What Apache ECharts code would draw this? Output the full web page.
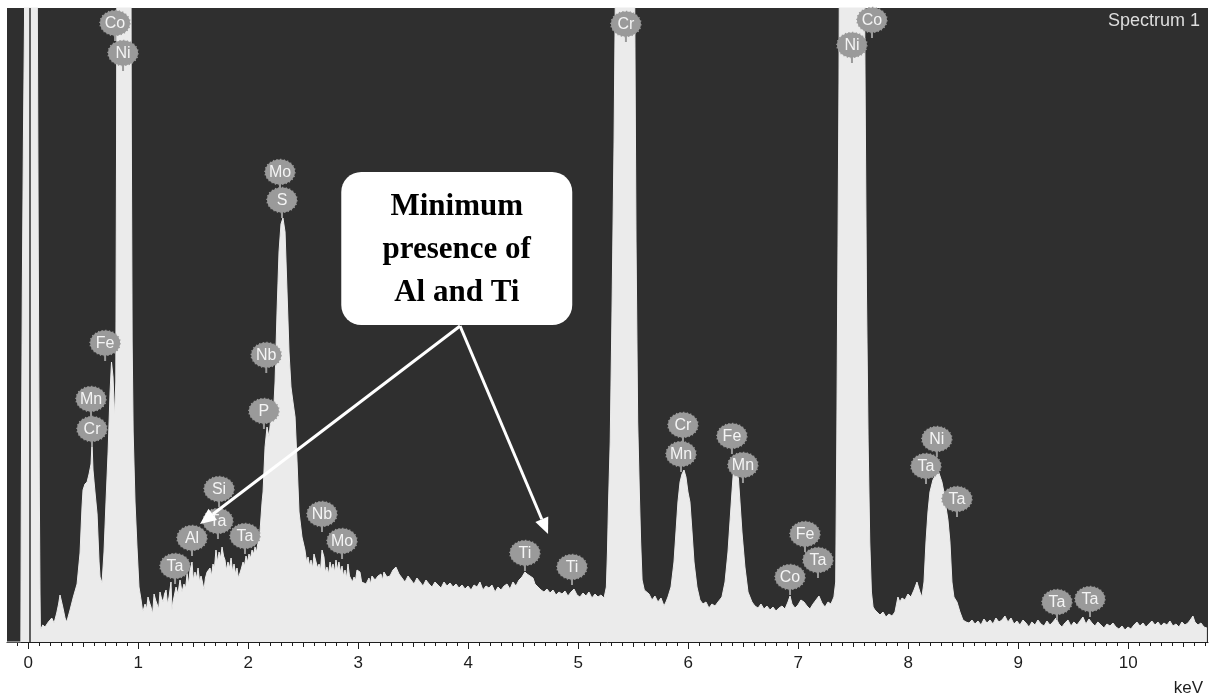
<!DOCTYPE html>
<html><head><meta charset="utf-8">
<script src="https://cdn.jsdelivr.net/npm/echarts@6/dist/echarts.min.js"></script>
<style>html,body{margin:0;padding:0;background:#fff}#c{width:1216px;height:700px}</style>
</head><body><div id="c"></div>
<script>
// ---------------- DATA ----------------
// EDS spectrum: [energy keV, counts (arbitrary units)]
const spectrum = [
[-0.194,0],[-0.068,0],[-0.064,150],[-0.055,350],[-0.045,500],[-0.035,620],[-0.03,1200],[0.078,1200],[0.082,634],[0.09,400],[0.1,150],[0.106,50],[0.11,12],
[0.131,17],[0.152,15],[0.182,20],[0.213,24],[0.234,19],[0.258,29],[0.275,38],[0.288,47],[0.313,35],[0.334,24],[0.349,20],[0.379,32],[0.409,45],[0.443,58],[0.47,89],[0.488,135],[0.497,152],[0.515,158],[0.534,160],[0.552,168],[0.57,178],[0.579,199],[0.588,172],[0.606,150],[0.625,128],[0.643,80],[0.652,65],[0.67,59],[0.688,90],[0.706,140],[0.725,190],[0.743,250],[0.756,280],[0.77,265],[0.784,225],[0.795,260],[0.802,500],[0.81,1000],[0.928,1000],[0.936,520],[0.944,300],[0.953,210],[0.97,140],[0.988,95],[1.006,55],[1.025,42],
[1.04,30],[1.061,38],[1.075,33],[1.088,45],[1.1,40],[1.115,35],[1.13,28],[1.143,48],[1.157,42],[1.17,38],[1.185,33],[1.197,50],[1.21,44],[1.225,40],[1.238,48],[1.252,52],[1.265,38],[1.279,45],[1.297,60],[1.306,32],[1.315,40],[1.343,55],[1.36,48],[1.379,62],[1.397,50],[1.415,58],[1.43,54],[1.443,68],[1.457,58],[1.47,72],[1.488,80],[1.5,62],[1.515,70],[1.53,64],[1.543,74],[1.557,60],[1.57,66],[1.583,60],[1.597,52],[1.61,64],[1.625,70],[1.652,74],[1.665,66],[1.679,78],[1.692,74],[1.706,92],[1.72,80],[1.734,90],[1.748,84],[1.761,95],[1.775,86],[1.788,82],[1.8,72],[1.815,80],[1.83,74],[1.843,84],[1.857,70],[1.87,78],[1.884,68],[1.897,74],[1.91,64],[1.924,66],[1.938,74],[1.952,80],[1.965,76],[1.979,86],[1.993,80],[2.006,88],[2.02,84],[2.034,92],[2.048,88],[2.061,95],[2.075,90],[2.088,100],[2.106,110],[2.125,140],
[2.134,150],[2.152,195],[2.17,215],[2.188,205],[2.206,225],[2.225,220],[2.243,260],[2.261,330],[2.279,390],[2.297,418],[2.315,424],[2.334,410],[2.352,350],[2.37,290],[2.388,255],[2.406,240],[2.425,225],[2.443,180],[2.461,130],[2.488,105],[2.515,92],[2.53,80],[2.543,85],[2.557,76],[2.57,82],[2.585,74],[2.597,88],[2.615,90],[2.63,74],[2.643,78],[2.657,72],[2.67,92],[2.688,85],[2.7,70],[2.715,75],[2.73,68],[2.743,80],[2.757,72],[2.77,78],[2.785,70],[2.797,82],[2.81,72],[2.824,80],[2.838,70],[2.852,76],[2.865,66],[2.879,72],[2.893,64],[2.906,78],[2.92,66],[2.933,66],[2.947,60],[2.961,65],[2.975,62],[2.988,72],
[3.015,70],[3.03,60],[3.043,62],[3.07,58],[3.097,64],[3.11,58],[3.124,66],[3.152,62],[3.179,66],[3.206,68],[3.22,62],[3.233,70],[3.261,65],[3.288,66],[3.315,72],[3.342,75],[3.37,68],[3.397,64],[3.424,60],[3.452,66],[3.479,62],[3.506,58],[3.533,64],[3.561,60],[3.588,56],[3.615,62],[3.643,58],[3.67,55],[3.697,60],[3.724,57],[3.752,54],[3.779,60],[3.806,56],[3.834,59],[3.861,55],[3.888,58],[3.915,54],[3.943,57],[3.97,53],[3.997,56],
[4.025,52],[4.052,57],[4.079,55],[4.106,60],[4.133,52],[4.161,56],[4.188,54],[4.215,57],[4.243,50],[4.27,55],[4.297,52],[4.325,56],[4.352,58],[4.379,53],[4.406,60],[4.433,56],[4.461,62],[4.488,65],[4.515,70],[4.534,68],[4.561,66],[4.588,64],[4.606,58],[4.634,55],[4.661,52],[4.688,50],[4.715,53],[4.743,49],[4.77,52],[4.797,47],[4.824,50],[4.852,48],[4.879,51],[4.906,46],[4.934,50],[4.961,53],[4.988,47],
[5.015,45],[5.043,49],[5.07,46],[5.097,50],[5.124,44],[5.152,48],[5.179,45],[5.206,47],[5.234,44],[5.255,55],[5.265,90],[5.275,140],[5.29,200],[5.305,320],[5.325,500],[5.345,750],[5.36,1000],[5.49,1000],[5.51,700],[5.525,400],[5.54,220],[5.555,150],[5.567,100],[5.58,62],[5.6,52],[5.615,50],[5.643,48],[5.67,42],[5.697,46],[5.724,40],[5.752,44],[5.779,36],[5.797,40],[5.815,45],[5.843,55],[5.87,80],[5.888,110],[5.906,140],[5.925,160],[5.943,168],[5.961,172],[5.979,165],[5.997,150],
[6.015,140],[6.034,110],[6.052,80],[6.079,55],[6.106,42],[6.133,38],[6.161,40],[6.188,34],[6.215,38],[6.243,36],[6.27,40],[6.306,45],[6.334,60],[6.361,90],[6.379,120],[6.397,150],[6.415,178],[6.434,187],[6.452,170],[6.47,140],[6.488,110],[6.515,75],[6.543,50],[6.579,40],[6.606,36],[6.634,34],[6.661,38],[6.688,33],[6.715,36],[6.743,32],[6.77,35],[6.797,31],[6.824,34],[6.852,36],[6.879,33],[6.906,40],[6.925,46],[6.943,38],[6.97,34],[6.997,37],
[7.024,42],[7.052,40],[7.079,36],[7.106,33],[7.134,38],[7.161,42],[7.188,46],[7.215,39],[7.243,35],[7.27,40],[7.297,38],[7.324,45],[7.34,60],[7.35,200],[7.36,380],[7.37,560],[7.385,1000],[7.59,1000],[7.605,600],[7.62,350],[7.635,200],[7.65,100],[7.665,50],[7.68,35],[7.697,32],[7.715,30],[7.743,27],[7.77,30],[7.797,25],[7.824,28],[7.852,26],[7.879,30],[7.906,45],[7.924,40],[7.943,44],[7.97,42],[7.997,48],
[8.024,45],[8.052,52],[8.079,60],[8.106,50],[8.124,45],[8.143,60],[8.161,100],[8.179,130],[8.197,150],[8.224,162],[8.252,168],[8.27,172],[8.288,166],[8.306,160],[8.324,150],[8.343,135],[8.361,122],[8.379,100],[8.397,60],[8.415,45],[8.443,40],[8.47,30],[8.497,22],[8.525,20],[8.552,19],[8.579,22],[8.606,18],[8.634,21],[8.661,17],[8.688,23],[8.715,19],[8.743,22],[8.77,18],[8.797,24],[8.824,20],[8.852,22],[8.879,26],[8.906,20],[8.934,24],[8.961,18],[8.988,21],
[9.015,17],[9.043,22],[9.07,19],[9.097,15],[9.124,20],[9.152,17],[9.179,22],[9.206,18],[9.234,16],[9.261,21],[9.288,17],[9.315,20],[9.343,24],[9.37,18],[9.397,15],[9.424,19],[9.452,22],[9.479,16],[9.506,20],[9.534,17],[9.561,21],[9.588,25],[9.615,18],[9.643,23],[9.67,19],[9.697,16],[9.724,20],[9.752,17],[9.779,14],[9.806,18],[9.834,16],[9.861,19],[9.888,15],[9.915,13],[9.943,16],[9.97,12],[9.997,15],
[10.024,13],[10.052,17],[10.079,20],[10.106,16],[10.134,19],[10.161,15],[10.188,18],[10.215,21],[10.243,17],[10.27,20],[10.297,16],[10.324,19],[10.352,17],[10.379,21],[10.406,16],[10.434,18],[10.461,15],[10.488,20],[10.515,17],[10.543,19],[10.57,23],[10.588,26],[10.606,20],[10.634,17],[10.661,19],[10.688,15],[10.715,14]
];

// Peak identification labels: element, energy (keV) and counts at the marker tip
const labelNames  = ['Co','Ni','Fe','Mn','Cr','Mo','S','Nb','P','Si','Ta','Al','Ta','Ta','Nb','Mo','Ti','Ti','Cr','Cr','Mn','Fe','Mn','Co','Fe','Ta','Co','Ni','Ni','Ta','Ta','Ta','Ta'];
const labelKeV    = [0.788,0.861,0.698,0.570,0.579,2.288,2.306,2.163,2.142,1.734,1.724,1.488,1.970,1.334,2.670,2.852,4.515,4.943,5.433,5.952,5.934,6.397,6.497,6.925,7.061,7.179,7.670,7.488,8.260,8.161,8.443,9.352,9.652];
const labelCounts = [601,571,281,225,195,452,424,269,213,135,103,86,88,58,110,83,71,57,600,199,170,188,159,47,90,64,604,579,185,158,125,22,25];

// Axis tick labels (keV)
const tickLabels = [0,1,2,3,4,5,6,7,8,9,10];

// Annotation
const noteLines = ['Minimum','presence of','Al and Ti'];
const seriesTitle = 'Spectrum 1';
const axisUnit = 'keV';

// ---------------- LAYOUT / STYLE ----------------
const X_MIN = -0.194, X_MAX = 10.725, Y_MAX = 634;
const ZERO_LINE_KEV = 0.012;
const halfTicks = [], minorTicks = [];
for (let i = 0; i <= 10; i++) halfTicks.push(i + 0.5);
for (let i = -1; i <= 107; i++) minorTicks.push(+(i / 10).toFixed(1));
const note = { keV: [2.845, 4.945], counts: [317, 470], from: [3.925, 316], tips: [[1.561, 118], [4.725, 108]] };

const BG = '#2f2f2f', FILL = '#ebebeb', BUBBLE = '#9a9a9a', TICK = '#1e1e1e';
const SANS = '"Liberation Sans", Arial, sans-serif';

const chart = echarts.init(document.getElementById('c'), null, { renderer: 'canvas' });

function tickAxis(values, len) {
  return { type: 'value', min: X_MIN, max: X_MAX, position: 'bottom',
    axisLine: { show: false }, axisLabel: { show: false }, splitLine: { show: false },
    axisTick: { show: true, length: len, customValues: values, lineStyle: { color: TICK, width: 1 } } };
}

chart.setOption({
  animation: false,
  backgroundColor: '#ffffff',
  grid: { left: 7, top: 8, width: 1201, height: 634, show: true, backgroundColor: BG, borderWidth: 0, containLabel: false, outerBoundsMode: 'none' },
  xAxis: [
    { type: 'value', min: X_MIN, max: X_MAX, position: 'bottom',
      axisLine: { show: true, onZero: false, lineStyle: { color: TICK, width: 1 } },
      axisTick: { show: true, length: 7, customValues: tickLabels, lineStyle: { color: TICK, width: 1 } },
      axisLabel: { show: true, customValues: tickLabels, margin: 13, color: TICK, fontSize: 17, fontFamily: SANS },
      splitLine: { show: false } },
    tickAxis(halfTicks, 5),
    tickAxis(minorTicks, 4)
  ],
  yAxis: { type: 'value', min: 0, max: Y_MAX, show: false },
  series: [
    { type: 'line', data: spectrum, symbol: 'none', showSymbol: false, silent: true, clip: true, z: 2,
      lineStyle: { color: FILL, width: 1 },
      areaStyle: { color: FILL, opacity: 1 },
      markLine: { silent: true, symbol: 'none', animation: false, label: { show: false },
        lineStyle: { color: BG, width: 1.5, type: 'solid' }, data: [{ xAxis: ZERO_LINE_KEV }] } },
    { type: 'custom', silent: true, z: 5, clip: false,
      data: labelKeV.map((k, i) => [k, labelCounts[i]]),
      renderItem: function (params, api) {
        const tip = api.coord([api.value(0), api.value(1)]);
        const cx = tip[0], cy = tip[1] - 18;
        return { type: 'group', children: [
          { type: 'line', shape: { x1: cx, y1: tip[1], x2: cx, y2: cy }, style: { stroke: BUBBLE, lineWidth: 2 } },
          { type: 'ellipse', shape: { cx: cx, cy: cy, rx: 15, ry: 12.5 },
            style: { fill: BUBBLE, stroke: BUBBLE, lineWidth: 1.5, lineDash: [1.2, 2.4] } },
          { type: 'ellipse', shape: { cx: cx, cy: cy, rx: 14.2, ry: 11.8 }, style: { fill: BUBBLE } },
          { type: 'text', style: { text: labelNames[params.dataIndex], x: cx, y: cy + 0.5, align: 'center', verticalAlign: 'middle',
            fill: '#f4f4f4', font: '16px ' + SANS } }
        ] };
      } }
  ]
});

// ---------------- ANNOTATIONS ----------------
const P = p => chart.convertToPixel({ xAxisIndex: 0, yAxisIndex: 0 }, p);
const b0 = P([note.keV[0], note.counts[1]]), b1 = P([note.keV[1], note.counts[0]]);
const from = P(note.from);
const graphics = [];
note.tips.forEach(t => {
  const tp = P(t);
  const dx = tp[0] - from[0], dy = tp[1] - from[1], L = Math.hypot(dx, dy);
  const ux = dx / L, uy = dy / L, hl = 16, hw = 7;
  const bx = tp[0] - ux * hl, by = tp[1] - uy * hl;
  graphics.push({ type: 'line', z: 10, shape: { x1: from[0], y1: from[1], x2: bx, y2: by }, style: { stroke: '#ffffff', lineWidth: 3 } });
  graphics.push({ type: 'polygon', z: 10, shape: { points: [[tp[0], tp[1]], [bx - uy * hw, by + ux * hw], [bx + uy * hw, by - ux * hw]] }, style: { fill: '#ffffff' } });
});
graphics.push({ type: 'rect', z: 11, shape: { x: b0[0], y: b0[1], width: b1[0] - b0[0], height: b1[1] - b0[1], r: 20 }, style: { fill: '#ffffff' } });
graphics.push({ type: 'text', z: 12, style: { text: noteLines.join('\n'), x: (b0[0] + b1[0]) / 2, y: (b0[1] + b1[1]) / 2 + 1,
  align: 'center', verticalAlign: 'middle', lineHeight: 43, fill: '#000000', font: 'bold 31px "Liberation Serif", "Times New Roman", serif' } });
graphics.push({ type: 'text', z: 12, style: { text: seriesTitle, x: 1200, y: 21, align: 'right', verticalAlign: 'middle', fill: '#dedede', font: '18px ' + SANS } });
graphics.push({ type: 'text', z: 12, style: { text: axisUnit, x: 1203, y: 688, align: 'right', verticalAlign: 'middle', fill: TICK, font: '17px ' + SANS } });
chart.setOption({ graphic: graphics });
</script>
</body></html>
